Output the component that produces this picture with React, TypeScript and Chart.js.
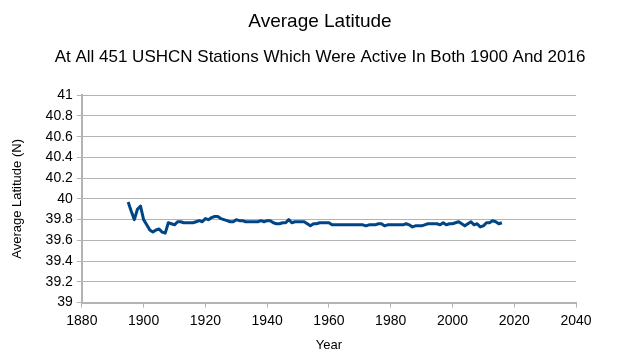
import React, { useEffect, useRef } from "react";
import { Chart, registerables } from "chart.js";

Chart.register(...registerables);

const chartTitle = "Average Latitude";
const chartSubtitle = "At All 451 USHCN Stations Which Were Active In Both 1900 And 2016";
const xAxisTitle = "Year";
const yAxisTitle = "Average Latitude (N)";

const years = [
  1895, 1896, 1897, 1898, 1899, 1900, 1901, 1902, 1903, 1904,
  1905, 1906, 1907, 1908, 1909, 1910, 1911, 1912, 1913, 1914,
  1915, 1916, 1917, 1918, 1919, 1920, 1921, 1922, 1923, 1924,
  1925, 1926, 1927, 1928, 1929, 1930, 1931, 1932, 1933, 1934,
  1935, 1936, 1937, 1938, 1939, 1940, 1941, 1942, 1943, 1944,
  1945, 1946, 1947, 1948, 1949, 1950, 1951, 1952, 1953, 1954,
  1955, 1956, 1957, 1958, 1959, 1960, 1961, 1962, 1963, 1964,
  1965, 1966, 1967, 1968, 1969, 1970, 1971, 1972, 1973, 1974,
  1975, 1976, 1977, 1978, 1979, 1980, 1981, 1982, 1983, 1984,
  1985, 1986, 1987, 1988, 1989, 1990, 1991, 1992, 1993, 1994,
  1995, 1996, 1997, 1998, 1999, 2000, 2001, 2002, 2003, 2004,
  2005, 2006, 2007, 2008, 2009, 2010, 2011, 2012, 2013, 2014,
  2015, 2016,
];

const latitudes = [
  39.97, 39.88, 39.80, 39.90, 39.93, 39.80, 39.75, 39.70, 39.68, 39.70,
  39.71, 39.68, 39.67, 39.77, 39.76, 39.75, 39.78, 39.78, 39.77, 39.77,
  39.77, 39.77, 39.78, 39.79, 39.78, 39.81, 39.80, 39.82, 39.83, 39.83,
  39.81, 39.80, 39.79, 39.78, 39.78, 39.80, 39.79, 39.79, 39.78, 39.78,
  39.78, 39.78, 39.78, 39.79, 39.78, 39.79, 39.79, 39.77, 39.76, 39.76,
  39.77, 39.77, 39.80, 39.77, 39.78, 39.78, 39.78, 39.78, 39.76, 39.74,
  39.76, 39.76, 39.77, 39.77, 39.77, 39.77, 39.75, 39.75, 39.75, 39.75,
  39.75, 39.75, 39.75, 39.75, 39.75, 39.75, 39.75, 39.74, 39.75, 39.75,
  39.75, 39.76, 39.76, 39.74, 39.75, 39.75, 39.75, 39.75, 39.75, 39.75,
  39.76, 39.75, 39.73, 39.74, 39.74, 39.74, 39.75, 39.76, 39.76, 39.76,
  39.76, 39.75, 39.77, 39.75, 39.76, 39.76, 39.77, 39.78, 39.76, 39.74,
  39.76, 39.78, 39.75, 39.76, 39.73, 39.74, 39.77, 39.77, 39.79, 39.78,
  39.76, 39.77,
];

const FONT = "'Liberation Sans', Arial, sans-serif";

export default function App() {
  const canvasRef = useRef<HTMLCanvasElement | null>(null);

  useEffect(() => {
    document.body.style.margin = "0";
    const canvas = canvasRef.current;
    if (!canvas) return;
    const chart = new Chart(canvas, {
      type: "line",
      data: {
        datasets: [
          {
            data: years.map((y, i) => ({ x: y, y: latitudes[i] })),
            borderColor: "#004586",
            borderWidth: 3,
            pointRadius: 0,
            tension: 0,
            borderJoinStyle: "round",
            fill: false,
          },
        ],
      },
      options: {
        responsive: false,
        animation: false,
        layout: { padding: { left: 2, right: 0, top: 0, bottom: 0 } },
        plugins: {
          legend: { display: false },
          tooltip: { enabled: false },
          title: {
            display: true,
            text: chartTitle,
            color: "#000",
            font: { family: FONT, size: 19, weight: "normal" },
            padding: { top: 10, bottom: 14 },
          },
          subtitle: {
            display: true,
            text: chartSubtitle,
            color: "#000",
            font: { family: FONT, size: 17, weight: "normal" },
            padding: { top: 0, bottom: 28 },
          },
        },
        scales: {
          x: {
            type: "linear",
            min: 1880,
            max: 2040,
            ticks: {
              stepSize: 20,
              color: "#000",
              font: { family: FONT, size: 14 },
              padding: 5,
              maxRotation: 0,
              callback: (v: any) => String(v),
            },
            grid: {
              drawOnChartArea: false,
              drawTicks: true,
              tickLength: 5,
              color: "#b3b3b3",
            },
            border: { display: true, color: "#b3b3b3", width: 2 },
            title: {
              display: true,
              text: xAxisTitle,
              color: "#000",
              font: { family: FONT, size: 13 },
              padding: { top: 3, bottom: 7 },
            },
          },
          y: {
            min: 39,
            max: 41,
            ticks: {
              stepSize: 0.2,
              color: "#000",
              font: { family: FONT, size: 14 },
              padding: 4,
              callback: (v: any) => String(Number(Number(v).toFixed(1))),
            },
            grid: {
              color: "#b3b3b3",
              tickLength: 5,
            },
            border: { display: true, color: "#b3b3b3", width: 2 },
            title: {
              display: true,
              text: yAxisTitle,
              color: "#000",
              font: { family: FONT, size: 13 },
              padding: { top: 8, bottom: 16 },
            },
          },
          spacer: {
            type: "linear",
            position: "right",
            display: true,
            ticks: { display: false },
            grid: { display: false, drawOnChartArea: false },
            border: { display: false },
            afterFit: (scale: any) => {
              scale.width = 62;
            },
          },
        },
      },
    });
    return () => chart.destroy();
  }, []);

  return (
    <div style={{ position: "absolute", left: 0, top: 0, width: 638, height: 360, background: "#fff" }}>
      <canvas ref={canvasRef} width={638} height={360} style={{ width: 638, height: 360 }} />
    </div>
  );
}
